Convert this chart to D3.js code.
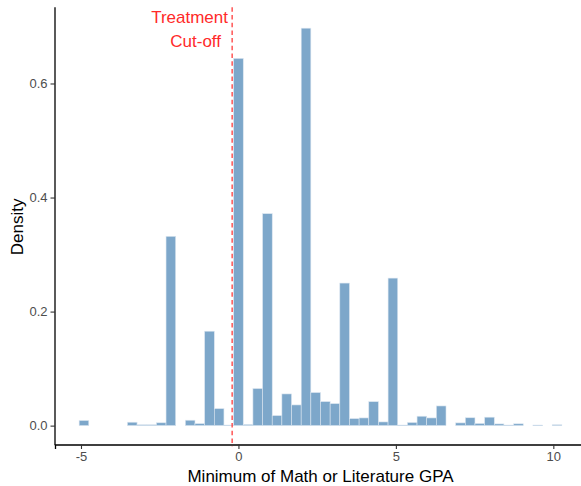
<!DOCTYPE html>
<html>
<head>
<meta charset="utf-8">
<script src="https://cdn.jsdelivr.net/npm/d3@7/dist/d3.min.js"></script>
<style>
html,body{margin:0;padding:0;background:#fff;}
svg{display:block;font-family:"Liberation Sans",Arial,sans-serif;}
</style>
</head>
<body>
<svg id="chart" width="581" height="486"></svg>
<script>
// Histogram bin index k (bin centre = k * binWidth) and density per bin
const binWidth = 0.3066;
const binIndex = [-16,-15,-14,-13,-12,-11,-10,-9,-8,-7,-6,-5,-4,-3,-2,-1,
  0,1,2,3,4,5,6,7,8,9,10,11,12,13,14,15,16,17,18,19,20,21,22,23,24,25,26,27,28,29,30,31,32,33];
const density = [0.009,0,0,0,0,0.006,0.0015,0.0015,0.005,0.332,0,0.0095,0.0035,0.1656,0.0298,0.001,
  0.644,0.002,0.065,0.3717,0.0176,0.0556,0.0363,0.697,0.058,0.0421,0.0386,0.250,0.0123,0.0135,0.042,0.0065,0.2587,
  0.001,0.0055,0.0165,0.0135,0.0345,0,0.0048,0.0138,0.0038,0.0148,0.003,0.001,0.0032,0,0.001,0,0.0015];
const xTicks = [-5, 0, 5, 10];
const yTicks = [0, 0.2, 0.4, 0.6];
const cutoff = -0.2;
const cutoffLabel = ["Treatment", "Cut-off"];
const xTitle = "Minimum of Math or Literature GPA";
const yTitle = "Density";

const svg = d3.select("#chart");
const maxD = d3.max(density);
const x = d3.scaleLinear().domain([-19 * binWidth, 36 * binWidth]).range([55, 586]);
const y = d3.scaleLinear().domain([-0.05 * maxD, 1.05 * maxD]).range([445.5, 8.3]);

const bars = binIndex.map((k, i) => ({x0: (k - 0.5) * binWidth, x1: (k + 0.5) * binWidth, d: density[i]}))
  .filter(b => b.d > 0);

svg.append("g").selectAll("rect").data(bars).join("rect")
  .attr("x", b => x(b.x0))
  .attr("width", b => x(b.x1) - x(b.x0))
  .attr("y", b => y(b.d))
  .attr("height", b => Math.max(0.6, y(0) - y(b.d)))
  .attr("fill", "steelblue")
  .attr("fill-opacity", 0.7)
  .attr("stroke", "#dde7f1")
  .attr("stroke-width", 0.6);

// cut-off line
svg.append("line")
  .attr("x1", x(cutoff)).attr("x2", x(cutoff))
  .attr("y1", y.range()[1] - 1).attr("y2", y.range()[0] + 1)
  .attr("stroke", "#ff3b3b").attr("stroke-width", 1.3)
  .attr("stroke-dasharray", "4.5,3.2");

svg.append("g").selectAll("text").data(cutoffLabel).join("text")
  .attr("x", (d, i) => i === 0 ? 228 : 221)
  .attr("y", (d, i) => 22.7 + i * 24.5)
  .attr("text-anchor", "end")
  .attr("font-size", 17)
  .attr("fill", "#ff2a2a")
  .text(d => d);

// axes
const xAxis = svg.append("g").attr("transform", `translate(0,${y.range()[0] - 1})`)
  .call(d3.axisBottom(x).tickValues(xTicks).tickSize(4.5).tickPadding(3).tickFormat(d3.format("d")));
const yAxis = svg.append("g").attr("transform", `translate(55,0)`)
  .call(d3.axisLeft(y).tickValues(yTicks).tickSize(4.5).tickPadding(3).tickFormat(d3.format(".1f")));
[xAxis, yAxis].forEach(a => {
  a.select(".domain").attr("stroke", "#000").attr("stroke-width", 1.3);
  a.selectAll(".tick line").attr("stroke", "#333").attr("stroke-width", 1.1);
  a.selectAll(".tick text").attr("fill", "#4d4d4d").attr("font-size", 13)
    .attr("font-family", "Liberation Sans, Arial, sans-serif");
});
xAxis.selectAll(".tick text").text(d => d < 0 ? "-" + Math.abs(d) : d);
// y axis line spans the panel only
yAxis.select(".domain").attr("d", `M0,${y.range()[1] - 1}V${y.range()[0] - 0.3}`);

svg.append("text")
  .attr("x", (x.range()[0] + x.range()[1]) / 2)
  .attr("y", 481.5)
  .attr("text-anchor", "middle")
  .attr("font-size", 17)
  .attr("fill", "#000")
  .text(xTitle);

svg.append("text")
  .attr("transform", `translate(22.5,${(y.range()[0] + y.range()[1]) / 2}) rotate(-90)`)
  .attr("text-anchor", "middle")
  .attr("font-size", 17)
  .attr("fill", "#000")
  .text(yTitle);
</script>
</body>
</html>
